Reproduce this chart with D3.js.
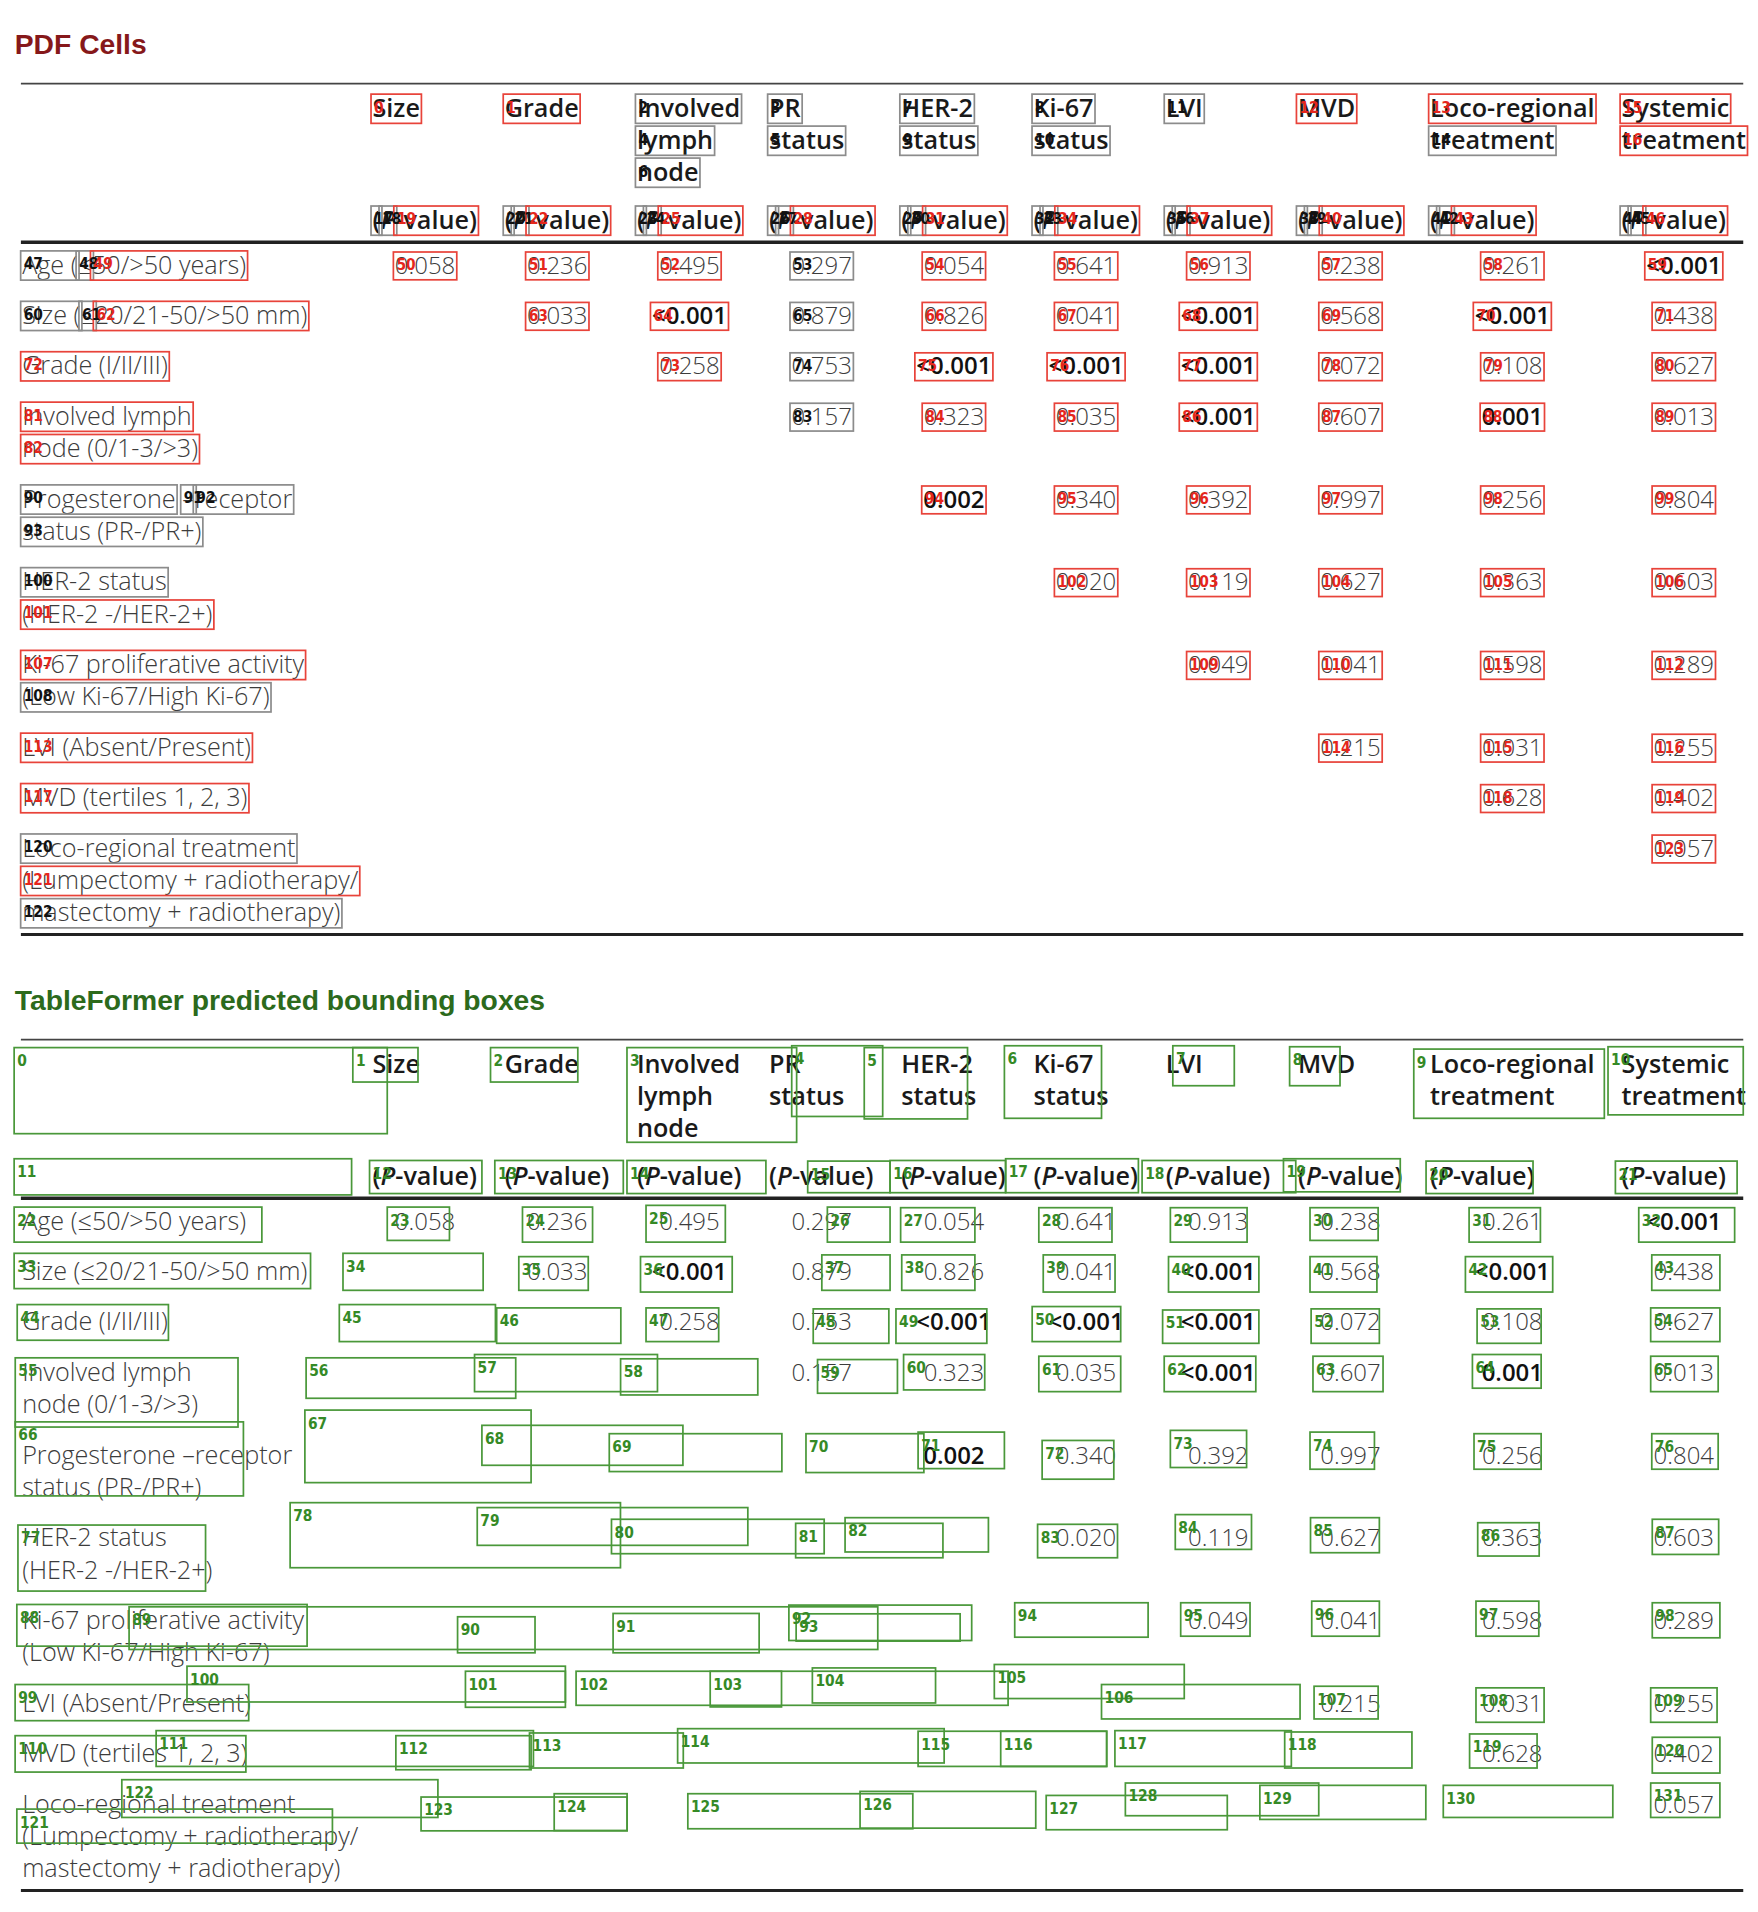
<!DOCTYPE html>
<html>
<head>
<meta charset="utf-8">
<script src="https://cdn.jsdelivr.net/npm/d3@7"></script>
<style>
  body { margin: 0; background: #fff; }
</style>
</head>
<body>
<div id="chart"></div>
<script>
// ── Datos de la tabla ──────────────────────────────────────────────────────
const columns = [
  ["Size"], ["Grade"], ["Involved", "lymph", "node"], ["PR", "status"],
  ["HER-2", "status"], ["Ki-67", "status"], ["LVI"], ["MVD"],
  ["Loco-regional", "treatment"], ["Systemic", "treatment"]
];

const rowLabels = [
  ["Age (≤50/>50 years)"],
  ["Size (≤20/21-50/>50 mm)"],
  ["Grade (I/II/III)"],
  ["Involved lymph", "node (0/1-3/>3)"],
  ["Progesterone –receptor", "status (PR-/PR+)"],
  ["HER-2 status", "(HER-2 -/HER-2+)"],
  ["Ki-67 proliferative activity", "(Low Ki-67/High Ki-67)"],
  ["LVI (Absent/Present)"],
  ["MVD (tertiles 1, 2, 3)"],
  ["Loco-regional treatment", "(Lumpectomy + radiotherapy/", "mastectomy + radiotherapy)"]
];

const pValues = [
  ["0.058", "0.236", "0.495", "0.297", "0.054", "0.641", "0.913", "0.238", "0.261", "<0.001"],
  ["", "0.033", "<0.001", "0.879", "0.826", "0.041", "<0.001", "0.568", "<0.001", "0.438"],
  ["", "", "0.258", "0.753", "<0.001", "<0.001", "<0.001", "0.072", "0.108", "0.627"],
  ["", "", "", "0.157", "0.323", "0.035", "<0.001", "0.607", "0.001", "0.013"],
  ["", "", "", "", "0.002", "0.340", "0.392", "0.997", "0.256", "0.804"],
  ["", "", "", "", "", "0.020", "0.119", "0.627", "0.363", "0.603"],
  ["", "", "", "", "", "", "0.049", "0.041", "0.598", "0.289"],
  ["", "", "", "", "", "", "", "0.215", "0.031", "0.255"],
  ["", "", "", "", "", "", "", "", "0.628", "0.402"],
  ["", "", "", "", "", "", "", "", "", "0.057"]
];

// ── Celdas PDF (orden de numeración y si están emparejadas) ───────────────
// [columna, línea] del encabezado en el orden en que se numeran
const headerOrder = [[0,0],[1,0],[2,0],[3,0],[2,1],[3,1],[2,2],[4,0],[5,0],[4,1],[5,1],[6,0],[7,0],[8,0],[8,1],[9,0],[9,1]];
const headerMatched = [1,1,0,0,0,0,0,0,0,0,0,0,1,1,0,1,1];
// "(P-value)" se parte en tres celdas: [desde, hasta, emparejada]
const pvalPieces = [[0,1,0],[1,2,0],[2,null,1]];
// segmentos de las etiquetas de fila: [línea, desde, hasta, emparejada]
const labelSegments = [
  [[0,0,5,0],[0,5,6,0],[0,6,null,1]],
  [[0,0,6,0],[0,6,7,0],[0,7,null,1]],
  [[0,0,null,1]],
  [[0,0,null,1],[1,0,null,1]],
  [[0,0,12,0],[0,13,14,0],[0,14,null,0],[1,0,null,0]],
  [[0,0,null,0],[1,0,null,1]],
  [[0,0,null,1],[1,0,null,0]],
  [[0,0,null,1]],
  [[0,0,null,1]],
  [[0,0,null,0],[1,0,null,1],[2,0,null,0]]
];
const columnMatched = [1,1,1,0,1,1,1,1,1,1];

// ── Cajas predichas por TableFormer (coordenadas de página: x0, y0, x1, y1) ─
const predBoxes = [
  [11.5,852,315,922],[287,852,340,880],[399,852,470,880],[510,852,648,929],[644,850.5,718,908],
  [703,852,787,910],[817,850.5,896,909.5],[954,850.5,1004,883],[1049,851.3,1090,883],[1150,853.2,1305,909.5],
  [1308,851.3,1418,906.7],[11.5,942.4,286,971.8],[300.6,943.8,392,970.7],[402.5,943.8,507,970.7],[510,943.8,623,970.7],
  [657,944.3,724,970],[724,943.8,818,970],[818,942.4,926,970],[929,943.8,1054,970],[1044,942.4,1139,969.3],
  [1160,944.3,1247,970.7],[1314,944.3,1413,970.7],[11.5,981.7,213,1010.2],[315,981.7,365.6,1008.8],[425,981.7,482,1010.2],
  [525.5,980.3,590,1010.2],[673,981.7,724,1010.2],[732.6,982.2,793,1010.2],[845,982.2,904.5,1010.2],[952,982.2,1014.4,1010.2],
  [1065.6,982.2,1121,1008.8],[1195,982.2,1253,1010.2],[1333,982.2,1411,1010.2],[11.5,1019.3,252.6,1048],[279,1019.3,393,1049.4],
  [422,1022,478.5,1049.4],[521,1022,595.6,1050.8],[668.5,1020.6,724,1049.4],[733.5,1020.6,793,1049.4],[848.6,1020.6,907,1050.8],
  [950.5,1022,1024,1050.8],[1065.6,1022,1120,1050.8],[1192,1022,1263,1050.8],[1343.6,1020.6,1399,1049.4],[14,1061,137,1090],
  [276,1061,403,1091.1],[404,1063.7,505,1092.5],[525.5,1063.7,584.6,1091.1],[661.5,1064.5,723,1092.5],[728.8,1064.5,802.7,1092.5],
  [839.6,1062.6,911.6,1091.1],[945.7,1065.4,1024,1092.5],[1066.5,1064.5,1122,1092.5],[1201.5,1064.5,1253.6,1092.5],[1342.7,1063.7,1399,1091.1],
  [12.4,1104.3,193.6,1160.6],[249,1104.3,419.5,1137.2],[386,1101.6,534.8,1131.8],[504.8,1105.1,616.4,1134.5],[665,1105.7,730,1133.1],
  [735,1101.6,801,1130.4],[845,1103,911.6,1131.8],[947,1103,1021.5,1131.8],[1068,1103,1125,1131.8],[1197.7,1101.6,1253.6,1129],
  [1342.7,1103,1397.6,1131.8],[12.4,1156.4,198,1216.6],[248,1146.8,432,1205.8],[392,1159.2,555.5,1191.7],[495.6,1166,636,1196.8],
  [655.6,1166,751.5,1197.6],[746.8,1164.7,817,1194.4],[847.7,1171.5,906,1203],[952,1163.3,1014,1193.5],[1065.6,1164.7,1118,1194.9],
  [1199,1166,1253.6,1194.9],[1343.6,1166,1397.6,1194.9],[14.6,1240.3,167.2,1294],[236,1222.1,504.7,1275],[388.2,1226.1,608.3,1256.8],
  [497.4,1235.6,670.4,1263.6],[647.2,1238.9,767,1266.9],[687.4,1234.3,804,1262.2],[844,1239.7,909,1266.9],[956,1231.8,1018,1260.1],
  [1066,1234.3,1122,1262.8],[1202,1238.4,1252,1265.5],[1344,1235.6,1398,1264.2],[13.7,1304.9,249.8,1338.8],[105,1306.8,714,1341.5],
  [372.2,1314.9,435.2,1344.2],[498.7,1312.2,617.5,1344.2],[641.7,1305.4,790.4,1334.2],[647.6,1312.5,781,1334.7],[825.4,1303.5,933.9,1331.5],
  [960.4,1303.5,1016.8,1330.7],[1067,1302.2,1122,1330.7],[1200.6,1302.2,1251.7,1330.7],[1344,1303.5,1399,1332],[12.3,1370,202.3,1399.4],
  [152.1,1355.1,459.9,1384.2],[378.6,1359.2,459.9,1388.5],[468.6,1359.2,820,1386.9],[577.7,1359.2,635.7,1388.2],[660.8,1356.5,761,1385],
  [808.8,1353.7,963.3,1381.4],[896,1370,1057.5,1398],[1068.9,1371.4,1121,1398],[1200.6,1372.7,1256,1400.7],[1342.7,1372.7,1396.7,1400.7],
  [12.3,1411.6,200,1441.2],[127,1407.5,433.9,1436.6],[322,1411.6,432,1439.3],[430.7,1409.4,555.8,1437.9],[551.2,1405.9,768,1433.8],
  [746.8,1408,900.2,1436.6],[814,1408,900.2,1436.6],[906.9,1407.5,1050.4,1436.6],[1045,1408.6,1148.5,1437.9],[1195.4,1410.2,1250.3,1437.9],
  [1344,1412.9,1399,1442],[13.7,1471.3,270.4,1499],[99.1,1447.4,356.2,1478.1],[342.5,1461.5,510.1,1489],[450.8,1458.8,510.1,1488.7],
  [559.5,1458.8,742.5,1487.3],[699.6,1456.9,842.5,1486.8],[851,1460.2,998.3,1488.1],[915.4,1450.1,1072.7,1476.7],[1024.8,1452,1159.8,1479.7],
  [1174,1452,1311.9,1478.1],[1342.7,1450.1,1399,1478.1]
];

// ── Escalas: unidades de página → píxeles ─────────────────────────────────
const W = 1758, H = 1912, PW = 1430, PH = 1555;
const x = d3.scaleLinear().domain([0, PW]).range([0, W]);
const y = d3.scaleLinear().domain([0, PH]).range([0, H]);
const k = W / PW;

const FONT = "'Open Sans', 'Noto Sans', 'DejaVu Sans', sans-serif";
const TITLE_FONT = "'Liberation Sans', Arial, sans-serif";
const LABEL_FONT = "'Liberation Sans Narrow', 'DejaVu Sans Condensed', 'Roboto Condensed', 'Liberation Sans', sans-serif";

const RED = "#e8433a", GRAY = "#8c8c8c", GREEN = "#4a983a", GREEN_TXT = "#358a26";

const svg = d3.select("#chart").append("svg")
  .attr("width", W)
  .attr("height", H)
  .style("background", "#fff");

// medidor oculto para anchos de texto
const meter = svg.append("text").attr("visibility", "hidden");
function textWidth(str, size, weight) {
  meter.attr("font-family", FONT).attr("font-size", size).attr("font-weight", weight).text(str);
  return meter.node().getComputedTextLength();
}

// ── Geometría de la tabla ─────────────────────────────────────────────────
const headFs = 20.5 * k, bodyFs = 20.5 * k, valFs = 19.5 * k;
const colLeft = [], colWidth = [];
{
  let left = x(303);
  columns.forEach((col, c) => {
    const w = Math.max(...col.map(s => textWidth(s, headFs, 600)), textWidth("(P-value)", headFs, 600));
    colLeft.push(left);
    colWidth.push(w);
    left += Math.max(107 * k, w + 22 * k);
  });
}
// centro de cada línea de fila (unidades de página)
const lineCenters = [];
{
  let line = 0;
  rowLabels.forEach((r, i) => {
    lineCenters.push(r.map((_, j) => 215 + (line + j) * 26.3 + i * 14.7));
    line += r.length;
  });
}
const isBold = v => v.startsWith("<") || (+v < 0.01);

// ── Dibujar un panel (título + tabla) ─────────────────────────────────────
function drawPanel(offset, title, titleColor) {
  const g = svg.append("g");
  const Y = v => y(v + offset);

  g.append("text")
    .attr("x", x(12)).attr("y", Y(44))
    .attr("font-family", TITLE_FONT).attr("font-weight", 700)
    .attr("font-size", 23 * k).attr("fill", titleColor)
    .text(title);

  // líneas de la tabla
  [[68, 1.6, "#444"], [197, 3, "#222"], [760, 2.6, "#222"]].forEach(([yy, sw, col]) => {
    g.append("line")
      .attr("x1", x(17)).attr("x2", x(1418))
      .attr("y1", Y(yy)).attr("y2", Y(yy))
      .attr("stroke", col).attr("stroke-width", sw * k);
  });

  // encabezado
  const headerNodes = columns.map((col, c) => col.map((s, l) =>
    g.append("text")
      .attr("x", colLeft[c]).attr("y", Y(95 + l * 26))
      .attr("font-family", FONT).attr("font-weight", 600)
      .attr("font-size", headFs).attr("fill", "#1a1a1a")
      .text(s).node()
  ));

  const pNodes = columns.map((col, c) => {
    const t = g.append("text")
      .attr("x", colLeft[c]).attr("y", Y(186))
      .attr("font-family", FONT).attr("font-weight", 600)
      .attr("font-size", headFs).attr("fill", "#1a1a1a");
    t.append("tspan").text("(");
    t.append("tspan").attr("font-style", "italic").text("P");
    t.append("tspan").text("-value)");
    return t.node();
  });

  // filas
  const labelNodes = rowLabels.map((r, i) => r.map((s, j) =>
    g.append("text")
      .attr("x", x(18)).attr("y", Y(lineCenters[i][j] + 7.5))
      .attr("font-family", FONT).attr("font-weight", 300)
      .attr("font-size", bodyFs).attr("fill", "#3c3c3c")
      .text(s).node()
  ));

  const valueNodes = pValues.map((row, i) => row.map((v, c) => {
    if (!v) return null;
    return g.append("text")
      .attr("x", colLeft[c] + colWidth[c] / 2).attr("y", Y(lineCenters[i][0] + 7.5))
      .attr("text-anchor", "middle")
      .attr("font-family", FONT)
      .attr("font-weight", isBold(v) ? 600 : 300)
      .attr("font-size", valFs)
      .attr("fill", isBold(v) ? "#111" : "#3c3c3c")
      .text(v).node();
  }));

  return { g, headerNodes, pNodes, labelNodes, valueNodes };
}

// ── Panel 1: celdas del PDF ───────────────────────────────────────────────
const pdfPanel = drawPanel(0, "PDF Cells", "#86181a");

const cells = [];
headerOrder.forEach(([c, l], i) =>
  cells.push({ node: pdfPanel.headerNodes[c][l], from: 0, to: null, red: headerMatched[i] }));
columns.forEach((_, c) => pvalPieces.forEach(([from, to, red]) =>
  cells.push({ node: pdfPanel.pNodes[c], from, to, red })));
rowLabels.forEach((_, r) => {
  labelSegments[r].forEach(([line, from, to, red]) =>
    cells.push({ node: pdfPanel.labelNodes[r][line], from, to, red }));
  pValues[r].forEach((v, c) => {
    if (v) cells.push({ node: pdfPanel.valueNodes[r][c], from: 0, to: null, red: columnMatched[c] });
  });
});

function cellBox(cell) {
  const n = cell.node;
  const to = cell.to == null ? n.getNumberOfChars() : cell.to;
  let x0 = Infinity, x1 = -Infinity;
  for (let i = cell.from; i < to; i++) {
    const e = n.getExtentOfChar(i);
    x0 = Math.min(x0, e.x);
    x1 = Math.max(x1, e.x + e.width);
  }
  const base = +n.getAttribute("y"), fs = +n.getAttribute("font-size");
  return [x0 - 1.2 * k, base - 0.9 * fs, x1 + 1.2 * k, base + 0.26 * fs];
}

const pdfBoxes = cells.map((c, i) => ({ i, red: c.red, b: cellBox(c) }));

const labelSize = 12.5 * k;
const pdfLayer = pdfPanel.g.append("g");
pdfLayer.selectAll("rect")
  .data(pdfBoxes)
  .join("rect")
  .attr("x", d => d.b[0]).attr("y", d => d.b[1])
  .attr("width", d => d.b[2] - d.b[0]).attr("height", d => d.b[3] - d.b[1])
  .attr("fill", "none")
  .attr("stroke", d => d.red ? RED : GRAY)
  .attr("stroke-width", 1.4 * k);
pdfLayer.selectAll("text")
  .data(pdfBoxes)
  .join("text")
  .attr("x", d => d.b[0] + 2.5 * k)
  .attr("y", d => d.b[1] + 15 * k)
  .attr("font-family", LABEL_FONT).attr("font-weight", 700)
  .attr("font-size", labelSize)
  .attr("fill", d => d.red ? "#e5261c" : "#111")
  .text(d => d.i);

// ── Panel 2: cajas predichas ──────────────────────────────────────────────
const predPanel = drawPanel(777.5, "TableFormer predicted bounding boxes", "#2c6a1c");
const predLayer = predPanel.g.append("g");
predLayer.selectAll("rect")
  .data(predBoxes)
  .join("rect")
  .attr("x", d => x(d[0])).attr("y", d => y(d[1]))
  .attr("width", d => x(d[2]) - x(d[0])).attr("height", d => y(d[3]) - y(d[1]))
  .attr("fill", "none")
  .attr("stroke", GREEN)
  .attr("stroke-width", 1.4 * k);
predLayer.selectAll("text")
  .data(predBoxes)
  .join("text")
  .attr("x", d => x(d[0]) + 2.5 * k)
  .attr("y", d => y(d[1]) + 15 * k)
  .attr("font-family", LABEL_FONT).attr("font-weight", 700)
  .attr("font-size", labelSize)
  .attr("fill", GREEN_TXT)
  .text((d, i) => i);

meter.remove();
</script>
</body>
</html>
